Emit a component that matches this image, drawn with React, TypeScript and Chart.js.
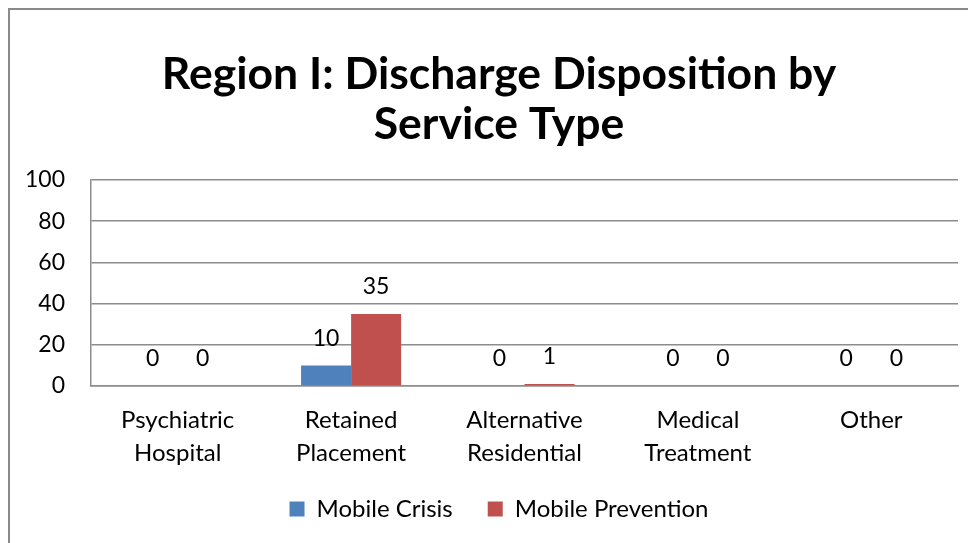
import React, { useEffect, useRef } from "react";
import { Chart, registerables } from "chart.js";

Chart.register(...registerables);

const categories: string[][] = [
  ["Psychiatric", "Hospital"],
  ["Retained", "Placement"],
  ["Alternative", "Residential"],
  ["Medical", "Treatment"],
  ["Other"],
];
const mobileCrisis: number[] = [0, 10, 0, 0, 0];
const mobilePrevention: number[] = [0, 35, 1, 0, 0];
const titleLines: string[] = ["Region I: Discharge Disposition by", "Service Type"];
const yMin = 0;
const yMax = 100;
const yStep = 20;

const FONT = "Lato, 'Open Sans', sans-serif";

const dataLabels = {
  id: "dataLabels",
  afterDatasetsDraw(chart: any) {
    const ctx = chart.ctx;
    ctx.save();
    ctx.font = `23px ${FONT}`;
    ctx.fillStyle = "#000";
    ctx.textAlign = "center";
    ctx.textBaseline = "middle";
    chart.data.datasets.forEach((ds: any, i: number) => {
      const meta = chart.getDatasetMeta(i);
      meta.data.forEach((bar: any, j: number) => {
        ctx.fillText(String(ds.data[j]), bar.x, bar.y - 27);
      });
    });
    ctx.restore();
  },
};

// widen the label clip areas of the axes so tick labels are not cut off
const unclipLabels = {
  id: "unclipLabels",
  afterLayout(chart: any) {
    if (chart.scales.y) chart.scales.y.left = 0;
    if (chart.scales.x) chart.scales.x.bottom = chart.height;
  },
};

export default function App() {
  const ref = useRef<HTMLCanvasElement>(null);
  useEffect(() => {
    document.body.style.overflow = "hidden";
    const chart = new Chart(ref.current!, {
      type: "bar",
      data: {
        labels: categories,
        datasets: [
          { label: "Mobile Crisis", data: mobileCrisis, backgroundColor: "#4F81BD" },
          { label: "Mobile Prevention", data: mobilePrevention, backgroundColor: "#C0504D" },
        ],
      },
      plugins: [dataLabels, unclipLabels],
      options: {
        responsive: false,
        animation: false,
        layout: { padding: { top: 0, left: 30, right: 42, bottom: 39 } },
        datasets: { bar: { categoryPercentage: 0.577, barPercentage: 1 } },
        plugins: {
          title: {
            display: true,
            text: titleLines,
            color: "#000",
            font: { family: FONT, size: 44.5, weight: "bold", lineHeight: 1.124 },
            padding: { top: 40, bottom: 30 },
          },
          legend: {
            position: "bottom",
            labels: {
              color: "#000",
              font: { family: FONT, size: 24 },
              boxWidth: 15,
              boxHeight: 15,
              padding: 35,
            },
          },
          tooltip: { enabled: false },
        },
        scales: {
          x: {
            grid: { display: false, drawTicks: false },
            border: { display: true, color: "#8c8c8c", width: 1.5 },
            ticks: { color: "#000", font: { family: FONT, size: 24, lineHeight: 1.36 }, padding: 18, maxRotation: 0 },
            afterFit(scale: any) {
              scale.height = 76;
            },
          },
          y: {
            min: yMin,
            max: yMax,
            grid: { color: "#8c8c8c", lineWidth: 1.5, drawTicks: false },
            border: { display: true, color: "#8c8c8c", width: 1.5 },
            ticks: { stepSize: yStep, color: "#000", font: { family: FONT, size: 23 }, padding: 26 },
            afterFit(scale: any) {
              scale.width = 51;
            },
          },
        },
      },
    });
    return () => chart.destroy();
  }, []);
  return (
    <div
      style={{
        width: 990,
        height: 560,
        borderLeft: "2px solid #8a8a8a",
        borderTop: "2px solid #8a8a8a",
        boxSizing: "content-box",
      }}
    >
      <canvas ref={ref} width={990} height={560} style={{ display: "block" }} />
    </div>
  );
}
